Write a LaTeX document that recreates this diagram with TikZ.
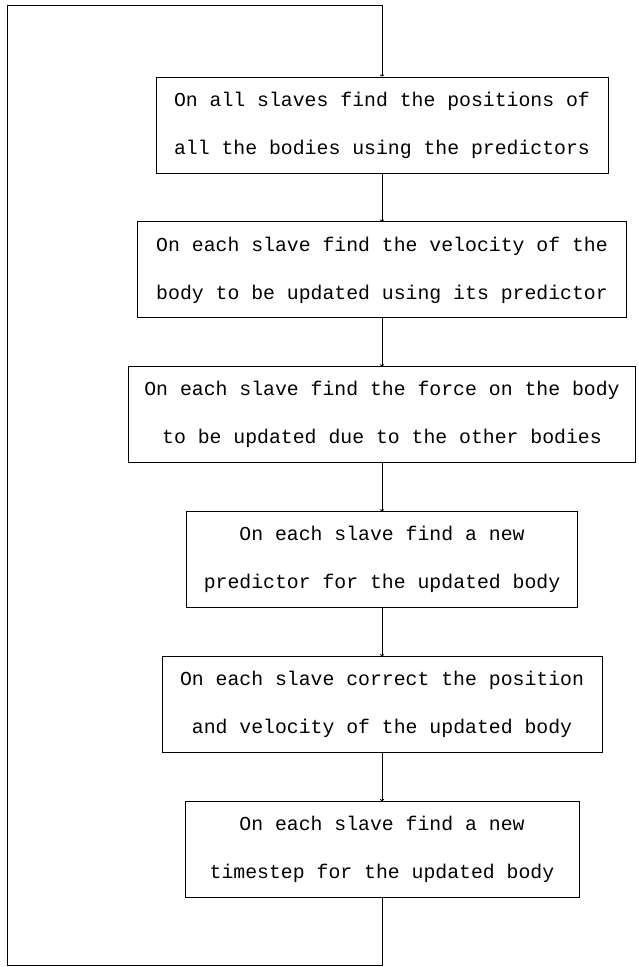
\documentclass[tikz,border=0pt]{standalone}
\usepackage{fontspec}
\newfontfamily\boxfont{Liberation Mono}
\usetikzlibrary{positioning,arrows.meta}

\begin{document}
\begin{tikzpicture}[x=1pt, y=-1pt, node distance=48pt,
    stepbox/.style={draw, line width=0.9pt, align=center, minimum height=96pt,
      font=\boxfont\fontsize{19.8}{48}\selectfont},
    flow/.style={line width=0.9pt, -{To[length=2pt,width=4pt]}}]
    \useasboundingbox (0,0) rectangle (638,967);

    \node[stepbox, minimum width=452pt] at (382,125) (positions) {On all slaves find the positions of \\ all the bodies using the predictors};
    \node[stepbox, minimum width=489pt, below=of positions] (velocity) {On each slave find the velocity of the \\ body to be updated using its predictor};
    \node[stepbox, minimum width=507pt, below=of velocity] (force) {On each slave find the force on the body \\ to be updated due to the other bodies};
    \node[stepbox, minimum width=391pt, below=of force] (predictor) {On each slave find a new \\ predictor for the updated body};
    \node[stepbox, minimum width=440pt, below=of predictor] (correct) {On each slave correct the position \\ and velocity of the updated body};
    \node[stepbox, minimum width=394pt, below=of correct] (timestep) {On each slave find a new \\ timestep for the updated body};

    \coordinate (bottom) at (382,965);
    \coordinate (corner) at (7,5);

    \draw[flow] (positions) -- (velocity);
    \draw[flow] (velocity) -- (force);
    \draw[flow] (force) -- (predictor);
    \draw[flow] (predictor) -- (correct);
    \draw[flow] (correct) -- (timestep);

    \draw[flow] (timestep) -- (bottom) -| (corner) -| (positions);
  \end{tikzpicture}
\end{document}
